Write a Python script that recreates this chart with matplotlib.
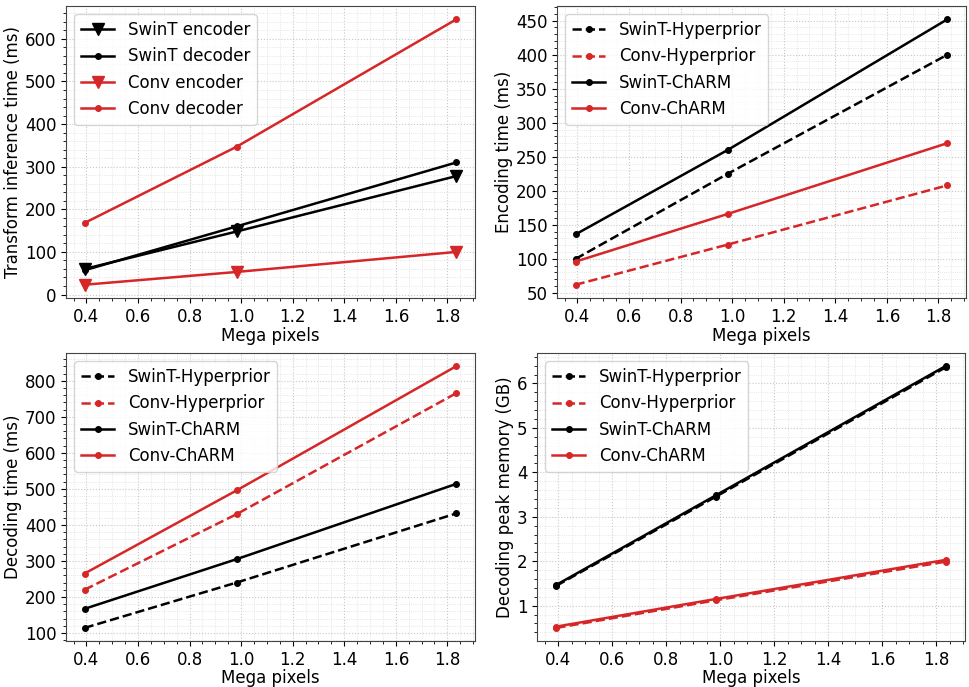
import matplotlib.pyplot as plt
from matplotlib.ticker import AutoMinorLocator, MultipleLocator

# image sizes (mega pixels) of the three test sets
mp = [0.393, 0.983, 1.835]

# transform inference time (ms)
swin_enc = [60, 148, 278]
swin_dec = [57, 160, 310]
conv_enc = [23, 53, 100]
conv_dec = [168, 347, 646]

# encoding time (ms)
enc_swin_hyper = [100, 225, 400]
enc_conv_hyper = [62, 121, 208]
enc_swin_charm = [136, 260, 452]
enc_conv_charm = [96, 166, 270]

# decoding time (ms)
dec_swin_hyper = [114, 240, 432]
dec_conv_hyper = [220, 430, 766]
dec_swin_charm = [167, 305, 514]
dec_conv_charm = [265, 496, 841]

# decoding peak memory (GB)
mem_swin_hyper = [1.45, 3.45, 6.36]
mem_conv_hyper = [0.50, 1.12, 1.99]
mem_swin_charm = [1.47, 3.48, 6.39]
mem_conv_charm = [0.53, 1.15, 2.03]

RED = '#d62728'
plt.rcParams['font.family'] = ['DejaVu Sans']
plt.rcParams['font.size'] = 12

W, H = 969, 687
fig = plt.figure(figsize=(W / 100, H / 100), dpi=100)


def add_ax(x0, x1, y0, y1):
    # pixel box -> figure fraction
    return fig.add_axes([x0 / W, 1 - y1 / H, (x1 - x0) / W, (y1 - y0) / H])


def style(ax, ylabel, ystep, xpad=1):
    ax.yaxis.set_major_locator(MultipleLocator(ystep))
    ax.xaxis.set_minor_locator(AutoMinorLocator())
    ax.yaxis.set_minor_locator(AutoMinorLocator())
    ax.grid(which='major', linestyle=':', color='#c8c8c8', linewidth=0.8)
    ax.grid(which='minor', linestyle=':', color='#dedede', linewidth=0.6)
    ax.set_axisbelow(True)
    for s in ax.spines.values():
        s.set_color('#444444')
    ax.set_xlabel('Mega pixels', labelpad=xpad)
    ax.set_ylabel(ylabel, labelpad=2)
    ax.legend(loc='upper left', fontsize=12)


ax1 = add_ax(66, 475, 6, 298)
ax1.plot(mp, swin_enc, 'k-', marker='v', ms=9, lw=1.8, label='SwinT encoder')
ax1.plot(mp, swin_dec, 'k-', marker='.', ms=8, lw=1.8, label='SwinT decoder')
ax1.plot(mp, conv_enc, '-', color=RED, marker='v', ms=9, lw=1.8, label='Conv encoder')
ax1.plot(mp, conv_dec, '-', color=RED, marker='.', ms=8, lw=1.8, label='Conv decoder')
style(ax1, 'Transform inference time (ms)', 100)


def four(ax, sh, ch, sc, cc, ylabel, ystep, xpad=1):
    ax.plot(mp, sh, 'k--', marker='.', ms=8, lw=1.8, label='SwinT-Hyperprior')
    ax.plot(mp, ch, '--', color=RED, marker='.', ms=8, lw=1.8, label='Conv-Hyperprior')
    ax.plot(mp, sc, 'k-', marker='.', ms=8, lw=1.8, label='SwinT-ChARM')
    ax.plot(mp, cc, '-', color=RED, marker='.', ms=8, lw=1.8, label='Conv-ChARM')
    style(ax, ylabel, ystep, xpad)


ax2 = add_ax(557, 966, 6, 298)
four(ax2, enc_swin_hyper, enc_conv_hyper, enc_swin_charm, enc_conv_charm,
     'Encoding time (ms)', 50)

# bottom row sits a little higher so its x label stays inside the figure
ax3 = add_ax(66, 475, 353, 641)
four(ax3, dec_swin_hyper, dec_conv_hyper, dec_swin_charm, dec_conv_charm,
     'Decoding time (ms)', 100, xpad=0)

ax4 = add_ax(537, 965, 353, 641)
four(ax4, mem_swin_hyper, mem_conv_hyper, mem_swin_charm, mem_conv_charm,
     'Decoding peak memory (GB)', 1, xpad=0)

fig.savefig('out.png', dpi=100)
